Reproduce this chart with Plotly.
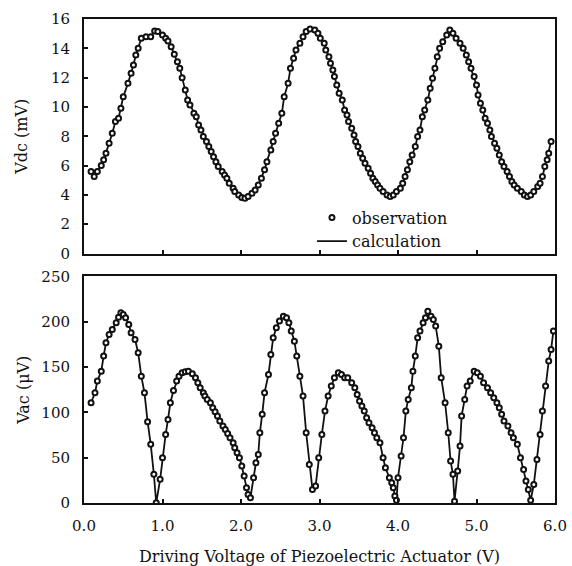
import plotly.graph_objects as go
from plotly.subplots import make_subplots

# ---- Top panel: Vdc (mV) ----
vdc_x = [0.09, 0.13, 0.17, 0.22, 0.25, 0.28, 0.32, 0.36, 0.40, 0.44, 0.47, 0.50, 0.56, 0.60, 0.63, 0.66,
         0.69, 0.73, 0.79, 0.85, 0.90, 0.94, 1.00, 1.04, 1.07, 1.11, 1.15, 1.19, 1.22, 1.25, 1.29, 1.32,
         1.35, 1.40, 1.43, 1.46, 1.49, 1.52, 1.56, 1.59, 1.62, 1.65, 1.68, 1.71, 1.76, 1.79, 1.82, 1.85,
         1.90, 1.92, 1.97, 2.01, 2.05, 2.09, 2.14, 2.18, 2.22, 2.26, 2.30, 2.33, 2.38, 2.41, 2.44, 2.48,
         2.52, 2.55, 2.60, 2.63, 2.67, 2.70, 2.75, 2.79, 2.83, 2.88, 2.94, 2.98,
         3.01, 3.06, 3.08, 3.12, 3.14, 3.17, 3.19, 3.22, 3.25, 3.29, 3.32, 3.35, 3.37, 3.41, 3.44, 3.46,
         3.49, 3.52, 3.55, 3.58, 3.62, 3.65, 3.68, 3.71, 3.74, 3.77, 3.81, 3.86, 3.90, 3.94, 3.98, 4.03,
         4.06, 4.09, 4.12, 4.15, 4.18, 4.22, 4.25, 4.28, 4.31, 4.34, 4.38, 4.41, 4.44, 4.47, 4.50, 4.53,
         4.57, 4.62, 4.66, 4.70, 4.74, 4.79, 4.83, 4.87, 4.90, 4.93, 4.97, 5.00, 5.02, 5.05, 5.08, 5.11,
         5.14, 5.17, 5.19, 5.23, 5.26, 5.29, 5.32, 5.35, 5.39, 5.42, 5.45, 5.48, 5.52, 5.57, 5.61, 5.65,
         5.69, 5.73, 5.78, 5.81, 5.84, 5.87, 5.90, 5.92, 5.95]
vdc_y = [5.59, 5.25, 5.59, 6.00, 6.39, 6.84, 7.52, 8.20, 9.00, 9.23, 9.91, 10.70, 11.61, 12.30, 12.86, 13.54,
         14.00, 14.68, 14.79, 14.79, 15.18, 15.14, 14.91, 14.68, 14.50, 14.11, 13.59, 13.09, 12.64, 12.00, 11.16, 10.48,
         10.14, 9.57, 9.34, 8.77, 8.43, 7.98, 7.64, 7.30, 6.96, 6.61, 6.27, 5.93, 5.59, 5.36, 5.14, 4.80,
         4.46, 4.23, 4.00, 3.82, 3.78, 3.89, 4.11, 4.34, 4.68, 5.14, 5.71, 6.27, 7.07, 7.64, 8.20, 8.89,
         9.57, 10.70, 11.61, 12.64, 13.32, 13.89, 14.34, 14.79, 15.14, 15.32, 15.25, 15.02,
         14.68, 14.34, 13.89, 13.43, 12.98, 12.52, 12.07, 11.50, 10.93, 10.48, 9.80, 9.45, 9.00, 8.55, 8.09, 7.64,
         7.30, 6.84, 6.50, 6.16, 5.82, 5.48, 5.14, 4.91, 4.68, 4.46, 4.23, 4.00, 3.89, 4.00, 4.23, 4.46,
         4.80, 5.25, 5.71, 6.27, 6.73, 7.30, 7.98, 8.43, 9.34, 9.80, 10.48, 11.27, 11.95, 12.64, 13.43, 14.00,
         14.45, 14.91, 15.25, 15.02, 14.68, 14.34, 14.00, 13.54, 13.09, 12.64, 12.07, 11.50, 10.82, 10.25, 9.80, 9.23,
         8.89, 8.43, 7.98, 7.52, 7.18, 6.73, 6.27, 5.93, 5.59, 5.25, 4.91, 4.68, 4.46, 4.23, 4.00, 3.89,
         4.00, 4.23, 4.57, 4.80, 5.25, 5.93, 6.39, 6.84, 7.64]

# ---- Bottom panel: Vac (uV) ----
vac_x = [0.09, 0.14, 0.17, 0.22, 0.25, 0.28, 0.32, 0.36, 0.41, 0.44, 0.47, 0.50, 0.53, 0.57, 0.60, 0.65,
         0.69, 0.73, 0.77, 0.81, 0.85, 0.89, 0.92, 0.97, 1.00, 1.04, 1.07, 1.10, 1.14, 1.18, 1.21, 1.25,
         1.29, 1.33, 1.38, 1.42, 1.45, 1.48, 1.52, 1.54, 1.57, 1.61, 1.64, 1.67, 1.70, 1.73, 1.77, 1.80,
         1.83, 1.86, 1.90, 1.92, 1.95, 1.98, 2.01, 2.04, 2.07, 2.09, 2.12, 2.16, 2.19, 2.22, 2.24, 2.27,
         2.30, 2.35, 2.38, 2.41, 2.45, 2.49, 2.54, 2.58, 2.61, 2.64, 2.68, 2.71, 2.75, 2.79, 2.83, 2.87,
         2.91, 2.95, 2.99,
         3.03, 3.07, 3.11, 3.15, 3.19, 3.24, 3.28, 3.32, 3.36, 3.41, 3.45, 3.48, 3.51, 3.54, 3.57, 3.60,
         3.63, 3.67, 3.70, 3.73, 3.77, 3.81, 3.84, 3.89, 3.92, 3.94, 3.96, 3.98, 4.00, 4.04, 4.07, 4.10,
         4.13, 4.17, 4.19, 4.22, 4.25, 4.28, 4.32, 4.35, 4.38, 4.42, 4.45, 4.48, 4.52, 4.55, 4.60, 4.64,
         4.67, 4.70, 4.72, 4.76, 4.79, 4.81, 4.85, 4.88, 4.92, 4.97, 5.01, 5.05, 5.09, 5.14, 5.18, 5.22,
         5.26, 5.29, 5.32, 5.35, 5.40, 5.44, 5.47, 5.52, 5.56, 5.60, 5.63, 5.66, 5.69, 5.73, 5.77, 5.81,
         5.84, 5.88, 5.92, 5.95, 5.98]
vac_y = [110.6, 121.7, 134.5, 145.5, 162.1, 176.8, 186.0, 191.5, 198.9, 205.1, 209.9, 208.0, 204.4, 197.0, 187.8, 180.5,
         165.8, 140.0, 121.7, 89.7, 64.7, 31.6, 0.3, 26.1, 50.0, 75.7, 92.2, 110.6, 124.2, 134.5, 140.0, 143.7,
         144.8, 145.5, 142.6, 138.2, 132.7, 127.2, 121.7, 118.0, 114.3, 110.6, 105.1, 100.7, 95.9, 90.4, 84.9, 81.2,
         76.8, 72.0, 66.5, 61.0, 55.5, 50.0, 40.8, 29.7, 16.9, 9.5, 5.8, 27.9, 44.4, 53.6, 77.5, 97.8,
         121.7, 141.9, 163.9, 182.3, 193.3, 200.7, 206.2, 204.4, 198.9, 189.7, 178.6, 162.1, 140.0, 118.0, 77.5, 42.6,
         15.0, 18.7, 50.0,
         75.7, 101.4, 118.0, 129.0, 138.2, 143.7, 141.9, 138.2, 138.2, 132.7, 127.2, 119.8, 112.5, 106.9, 101.4, 94.1,
         88.6, 83.0, 77.5, 72.0, 66.5, 50.0, 38.9, 27.9, 22.4, 16.9, 7.7, 3.0, 27.9, 51.8, 72.0, 101.4,
         114.3, 127.2, 145.5, 162.1, 182.3, 189.7, 198.9, 204.4, 211.7, 206.2, 202.5, 195.2, 173.1, 138.2, 110.6, 77.5,
         46.3, 31.6, 2.0, 35.3, 62.8, 95.9, 114.3, 129.0, 134.5, 145.5, 143.7, 140.0, 132.7, 127.2, 121.7, 116.1,
         110.6, 105.1, 97.8, 90.4, 84.9, 77.5, 72.0, 64.7, 50.0, 37.1, 24.2, 15.0, 3.0, 20.5, 48.1, 75.7,
         101.4, 129.0, 156.6, 169.4, 189.7]

x_ticks = [0, 1, 2, 3, 4, 5, 6]
x_ticklabels = ["0.0", "1.0", "2.0", "3.0", "4.0", "5.0", "6.0"]
vdc_ticks = [0, 2, 4, 6, 8, 10, 12, 14, 16]
vac_ticks = [0, 50, 100, 150, 200, 250]

FONT = "DejaVu Serif"
INK = "#111111"

fig = make_subplots(rows=2, cols=1, shared_xaxes=False, vertical_spacing=0.047)

marker_style = dict(symbol="circle", size=5, color="white", line=dict(color=INK, width=2))
line_style = dict(color=INK, width=1.8)

fig.add_trace(go.Scatter(x=vdc_x, y=vdc_y, mode="lines", line=line_style, name="calculation",
                         showlegend=True, legendrank=2), row=1, col=1)
fig.add_trace(go.Scatter(x=vdc_x, y=vdc_y, mode="markers", marker=marker_style, name="observation",
                         showlegend=True, legendrank=1), row=1, col=1)
fig.add_trace(go.Scatter(x=vac_x, y=vac_y, mode="lines", line=line_style, showlegend=False), row=2, col=1)
fig.add_trace(go.Scatter(x=vac_x, y=vac_y, mode="markers", marker=marker_style, showlegend=False), row=2, col=1)

axis_common = dict(showline=True, linecolor=INK, linewidth=2, mirror=True, ticks="inside",
                   ticklen=4, tickwidth=1.5, tickcolor=INK, showgrid=False, zeroline=False,
                   automargin=False, tickfont=dict(family=FONT, size=15, color=INK))

fig.update_xaxes(range=[0, 6], tickvals=x_ticks, ticktext=x_ticklabels, ticklabeloverflow="allow",
                 **axis_common)
fig.update_xaxes(showticklabels=False, row=1, col=1)
fig.update_xaxes(ticklabelstandoff=8, row=2, col=1,
                 title=dict(text="Driving Voltage of Piezoelectric Actuator (V)",
                            font=dict(family=FONT, size=16, color=INK), standoff=22))
fig.update_yaxes(range=[0, 16], tickvals=vdc_ticks, ticklabelstandoff=9, row=1, col=1,
                 title=dict(text="Vdc (mV)", font=dict(family=FONT, size=16, color=INK), standoff=19),
                 **axis_common)
fig.update_yaxes(range=[0, 250], tickvals=vac_ticks, ticklabelstandoff=9, row=2, col=1,
                 title=dict(text="Vac (μV)", font=dict(family=FONT, size=16, color=INK), standoff=8),
                 **axis_common)

fig.update_layout(
    width=572, height=566,
    margin=dict(l=84, r=17, t=19, b=63),
    plot_bgcolor="white", paper_bgcolor="white",
    font=dict(family=FONT, size=16, color=INK),
    legend=dict(x=0.484, y=0.625, xanchor="left", yanchor="top", bgcolor="rgba(0,0,0,0)",
                font=dict(family=FONT, size=16, color=INK), tracegroupgap=0),
)
fig.layout.yaxis.domain = [0.5154, 1.0]
fig.layout.yaxis2.domain = [0.0, 0.4681]

fig.write_html("out.html", config={"displayModeBar": False},
               post_script="document.body.style.margin='0';")
